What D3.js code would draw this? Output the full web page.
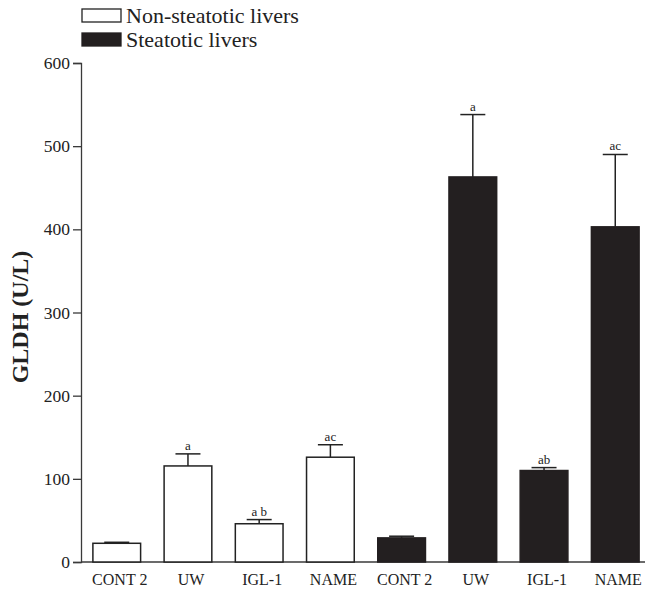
<!DOCTYPE html>
<html>
<head>
<meta charset="utf-8">
<script src="https://cdn.jsdelivr.net/npm/d3@7"></script>
<style>
  body { margin: 0; background: #fff; }
  svg { display: block; font-family: "Liberation Serif", "Times New Roman", serif; }
</style>
</head>
<body>
<svg id="chart" width="647" height="590"></svg>
<script>
// Data
var groups = ['CONT 2', 'UW', 'IGL-1', 'NAME', 'CONT 2', 'UW', 'IGL-1', 'NAME'];
var kinds = ['non', 'non', 'non', 'non', 'steatotic', 'steatotic', 'steatotic', 'steatotic'];
var means = [22.5, 115.5, 46, 126, 29, 463, 110, 403];
var errors = [1.2, 14.5, 5, 15, 2, 75, 3.5, 87];
var letters = ['', 'a', 'a b', 'ac', '', 'a', 'ab', 'ac'];
var yTicks = [0, 100, 200, 300, 400, 500, 600];
var legendItems = [
  {kind: 'non', label: 'Non-steatotic livers'},
  {kind: 'steatotic', label: 'Steatotic livers'}
];

var svg = d3.select('#chart');
var dark = '#231f20';
var axisColor = '#3a3a3a';
var serif = '"Liberation Serif", "Times New Roman", serif';

var data = groups.map(function(g, i) {
  return {id: i, group: g, kind: kinds[i], mean: means[i], err: errors[i], letter: letters[i]};
});

var x = d3.scaleBand()
  .domain(data.map(function(d) { return d.id; }))
  .range([81, 651])
  .paddingInner(0.33)
  .paddingOuter(0.167);

var y = d3.scaleLinear()
  .domain([0, 600])
  .range([562, 63]);

// Y axis
var yAxis = svg.append('g')
  .attr('transform', 'translate(81, 0)')
  .call(d3.axisLeft(y).tickValues(yTicks).tickSize(8).tickPadding(3));
yAxis.select('.domain').attr('stroke', axisColor).attr('stroke-width', 1.3);
yAxis.selectAll('.tick line').attr('stroke', axisColor).attr('stroke-width', 1.3);
yAxis.selectAll('.tick text')
  .attr('fill', '#222')
  .style('font-size', '17.5px')
  .style('font-family', serif);

// X axis (line and labels only)
var xAxis = svg.append('g')
  .attr('transform', 'translate(0, 562)')
  .call(d3.axisBottom(x).tickSize(0).tickPadding(12).tickFormat(function(i) { return groups[i]; }));
xAxis.select('.domain').remove();
xAxis.selectAll('.tick text')
  .attr('fill', '#222')
  .attr('dx', 3)
  .style('font-size', '16px')
  .style('font-family', serif);
svg.append('line')
  .attr('x1', 81).attr('x2', 645)
  .attr('y1', y(0)).attr('y2', y(0))
  .attr('stroke', axisColor)
  .attr('stroke-width', 1.3);

// Y title
svg.append('text')
  .attr('transform', 'translate(28, 317) rotate(-90)')
  .attr('text-anchor', 'middle')
  .style('font-size', '24px')
  .style('font-weight', 'bold')
  .attr('fill', '#222')
  .text('GLDH (U/L)');

// Error bars
var cap = 12.5;
var eb = svg.append('g').attr('stroke', '#222').attr('stroke-width', 1.5);
eb.selectAll('line.stem')
  .data(data)
  .enter().append('line')
  .attr('class', 'stem')
  .attr('x1', function(d) { return x(d.id) + x.bandwidth() / 2; })
  .attr('x2', function(d) { return x(d.id) + x.bandwidth() / 2; })
  .attr('y1', function(d) { return y(d.mean); })
  .attr('y2', function(d) { return y(d.mean + d.err); });
eb.selectAll('line.cap')
  .data(data)
  .enter().append('line')
  .attr('class', 'cap')
  .attr('x1', function(d) { return x(d.id) + x.bandwidth() / 2 - cap; })
  .attr('x2', function(d) { return x(d.id) + x.bandwidth() / 2 + cap; })
  .attr('y1', function(d) { return y(d.mean + d.err); })
  .attr('y2', function(d) { return y(d.mean + d.err); });

// Bars
svg.append('g').selectAll('rect')
  .data(data)
  .enter().append('rect')
  .attr('x', function(d) { return x(d.id); })
  .attr('y', function(d) { return y(d.mean); })
  .attr('width', x.bandwidth())
  .attr('height', function(d) { return y(0) - y(d.mean); })
  .attr('fill', function(d) { return d.kind === 'non' ? '#fff' : dark; })
  .attr('stroke', function(d) { return d.kind === 'non' ? '#222' : dark; })
  .attr('stroke-width', 1.5);

// Significance letters
svg.append('g').selectAll('text')
  .data(data)
  .enter().append('text')
  .attr('x', function(d) { return x(d.id) + x.bandwidth() / 2; })
  .attr('y', function(d) { return y(d.mean + d.err) - 4; })
  .attr('text-anchor', 'middle')
  .style('font-size', '13px')
  .attr('fill', '#222')
  .text(function(d) { return d.letter; });

// Legend
var legend = svg.append('g');
var li = legend.selectAll('g')
  .data(legendItems)
  .enter().append('g')
  .attr('transform', function(d, i) { return 'translate(82, ' + (9 + i * 24) + ')'; });
li.append('rect')
  .attr('width', 39)
  .attr('height', 13)
  .attr('fill', function(d) { return d.kind === 'non' ? '#fff' : dark; })
  .attr('stroke', function(d) { return d.kind === 'non' ? '#222' : dark; })
  .attr('stroke-width', 1.3);
li.append('text')
  .attr('x', 44)
  .attr('y', 14)
  .style('font-size', '22px')
  .attr('fill', '#222')
  .text(function(d) { return d.label; });
</script>
</body>
</html>
